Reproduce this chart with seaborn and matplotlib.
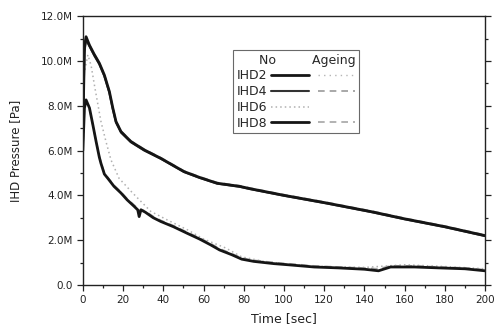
import matplotlib
matplotlib.use("Agg")
import matplotlib.pyplot as plt
import seaborn as sns
from matplotlib.lines import Line2D
from matplotlib.ticker import MultipleLocator

## values (pressure in MPa, time in sec)
t_upper = [0, 0.8, 1.6, 3.3, 5.8, 8.2, 10.7, 13.2, 14.9, 16.5, 19, 23.9, 30.5, 38.8, 50.3,
           58, 66.8, 78, 83, 100, 121, 144, 160, 180, 200]
ihd2_no = [6.8, 10.6, 11.08, 10.7, 10.27, 9.9, 9.37, 8.63, 7.9, 7.29, 6.84, 6.4, 6.03, 5.65, 5.06,
           4.8, 4.54, 4.4, 4.3, 4.0, 3.66, 3.26, 2.95, 2.6, 2.2]
ihd4_no = [6.6, 10.4, 10.95, 10.65, 10.22, 9.85, 9.32, 8.58, 7.85, 7.25, 6.8, 6.37, 6.0, 5.63, 5.04,
           4.78, 4.52, 4.38, 4.28, 3.98, 3.64, 3.24, 2.93, 2.58, 2.18]
ihd2_age = [6.7, 10.5, 11.0, 10.68, 10.25, 9.88, 9.35, 8.6, 7.88, 7.28, 6.83, 6.4, 6.03, 5.66, 5.07,
            4.81, 4.55, 4.41, 4.31, 4.01, 3.67, 3.27, 2.96, 2.61, 2.21]
ihd4_age = [6.7, 10.5, 11.05, 10.72, 10.3, 9.92, 9.4, 8.66, 7.93, 7.32, 6.87, 6.43, 6.06, 5.68, 5.09,
            4.83, 4.57, 4.43, 4.33, 4.03, 3.69, 3.29, 2.98, 2.63, 2.23]

t_lower = [0, 0.8, 1.6, 3.3, 5, 6.6, 8.2, 9, 10.7, 12.4, 15.5, 19, 22, 25.6, 27.3, 28, 28.9, 31, 35,
           38.8, 45, 52, 58, 63.5, 68, 74, 79, 85, 95, 102, 115, 127, 140, 147, 153, 165, 177, 190, 200]
ihd8_no = [6.0, 7.9, 8.26, 7.9, 7.14, 6.4, 5.7, 5.43, 4.95, 4.76, 4.4, 4.1, 3.8, 3.5, 3.35, 3.05, 3.35, 3.25, 3.0,
           2.83, 2.6, 2.3, 2.05, 1.79, 1.56, 1.35, 1.15, 1.05, 0.95, 0.9, 0.8, 0.76, 0.7, 0.63, 0.8, 0.8, 0.76, 0.72, 0.63]
ihd8_age = [5.9, 7.8, 8.15, 7.85, 7.12, 6.42, 5.75, 5.48, 5.0, 4.8, 4.45, 4.15, 3.85, 3.56, 3.42, 3.3, 3.38, 3.3, 3.06,
            2.88, 2.65, 2.35, 2.1, 1.85, 1.62, 1.4, 1.2, 1.1, 1.0, 0.95, 0.85, 0.8, 0.75, 0.72, 0.85, 0.85, 0.8, 0.76, 0.68]

t_ihd6 = [1, 2.5, 4.1, 5.8, 9, 11.5, 14, 18, 24.8, 33.8, 42, 52, 60, 71, 79, 90, 105, 120, 140, 160, 180, 200]
ihd6_no = [9.6, 10.27, 9.8, 8.9, 7.3, 6.4, 5.58, 4.76, 4.1, 3.28, 2.9, 2.46, 2.05, 1.65, 1.25, 1.05, 0.9, 0.82,
           0.78, 0.9, 0.82, 0.72]

y_ticks = [0, 2, 4, 6, 8, 10, 12]
y_tick_labels = ["0.0", "2.0M", "4.0M", "6.0M", "8.0M", "10.0M", "12.0M"]
legend_names = ["IHD2", "IHD4", "IHD6", "IHD8"]

sns.set_style("white")
plt.rcParams["font.family"] = ["DejaVu Sans"]

fig = plt.figure(figsize=(4.96, 3.29), dpi=100)
ax = fig.add_axes([0.167, 0.134, 0.811, 0.817])

# ageing runs underneath, no-ageing runs on top
sns.lineplot(x=t_upper, y=ihd2_age, ax=ax, color="#b5b5b5", lw=1.0, linestyle=(0, (1, 3)))
sns.lineplot(x=t_upper, y=ihd4_age, ax=ax, color="#9a9a9a", lw=1.2, linestyle=(0, (4, 3)))
sns.lineplot(x=t_lower, y=ihd8_age, ax=ax, color="#a5a5a5", lw=1.2, linestyle=(0, (4, 3)))
sns.lineplot(x=t_ihd6, y=ihd6_no, ax=ax, color="#b0b0b0", lw=1.1, linestyle=(0, (1, 2)))
sns.lineplot(x=t_upper, y=ihd4_no, ax=ax, color="#333333", lw=1.5)
sns.lineplot(x=t_upper, y=ihd2_no, ax=ax, color="#151515", lw=2.0)
sns.lineplot(x=t_lower, y=ihd8_no, ax=ax, color="#151515", lw=2.0)

ax.set_xlim(0, 200)
ax.set_ylim(0, 12)
ax.xaxis.set_major_locator(MultipleLocator(20))
ax.xaxis.set_minor_locator(MultipleLocator(10))
ax.set_yticks(y_ticks)
ax.set_yticklabels(y_tick_labels)
ax.yaxis.set_minor_locator(MultipleLocator(1))
ax.tick_params(which="both", direction="out", length=4, width=0.9, colors="#222222",
               labelsize=7.5, pad=3)
ax.tick_params(which="minor", length=2)
ax.tick_params(axis="y", which="both", left=True, right=True)
ax.tick_params(axis="x", which="both", bottom=True)
for s in ax.spines.values():
    s.set_color("#222222")
    s.set_linewidth(1.0)

ax.set_xlabel("Time [sec]", fontsize=9, color="#222222", labelpad=5)
ax.set_ylabel("IHD Pressure [Pa]", fontsize=8.5, color="#222222", labelpad=14)

no_handles = [
    Line2D([], [], color="#151515", lw=2.0),
    Line2D([], [], color="#333333", lw=1.5),
    Line2D([], [], color="#b0b0b0", lw=1.1, linestyle=(0, (1, 2))),
    Line2D([], [], color="#151515", lw=2.0),
]
age_handles = [
    Line2D([], [], color="#b5b5b5", lw=1.0, linestyle=(0, (1, 3))),
    Line2D([], [], color="#9a9a9a", lw=1.2, linestyle=(0, (4, 3))),
    Line2D([], [], color="none"),
    Line2D([], [], color="#a5a5a5", lw=1.2, linestyle=(0, (4, 3))),
]
leg = ax.legend(no_handles + age_handles, legend_names + [""] * 4, ncol=2,
                markerfirst=False, title="No         Ageing", alignment="right",
                loc="upper left", bbox_to_anchor=(0.374, 0.874), fontsize=9,
                title_fontsize=9, frameon=True, fancybox=False, edgecolor="#444444",
                handlelength=3.0, columnspacing=0.4, handletextpad=0.3,
                labelspacing=0.22, borderpad=0.3, borderaxespad=0)
leg.get_frame().set_linewidth(0.8)

fig.savefig("out.png", dpi=100)
